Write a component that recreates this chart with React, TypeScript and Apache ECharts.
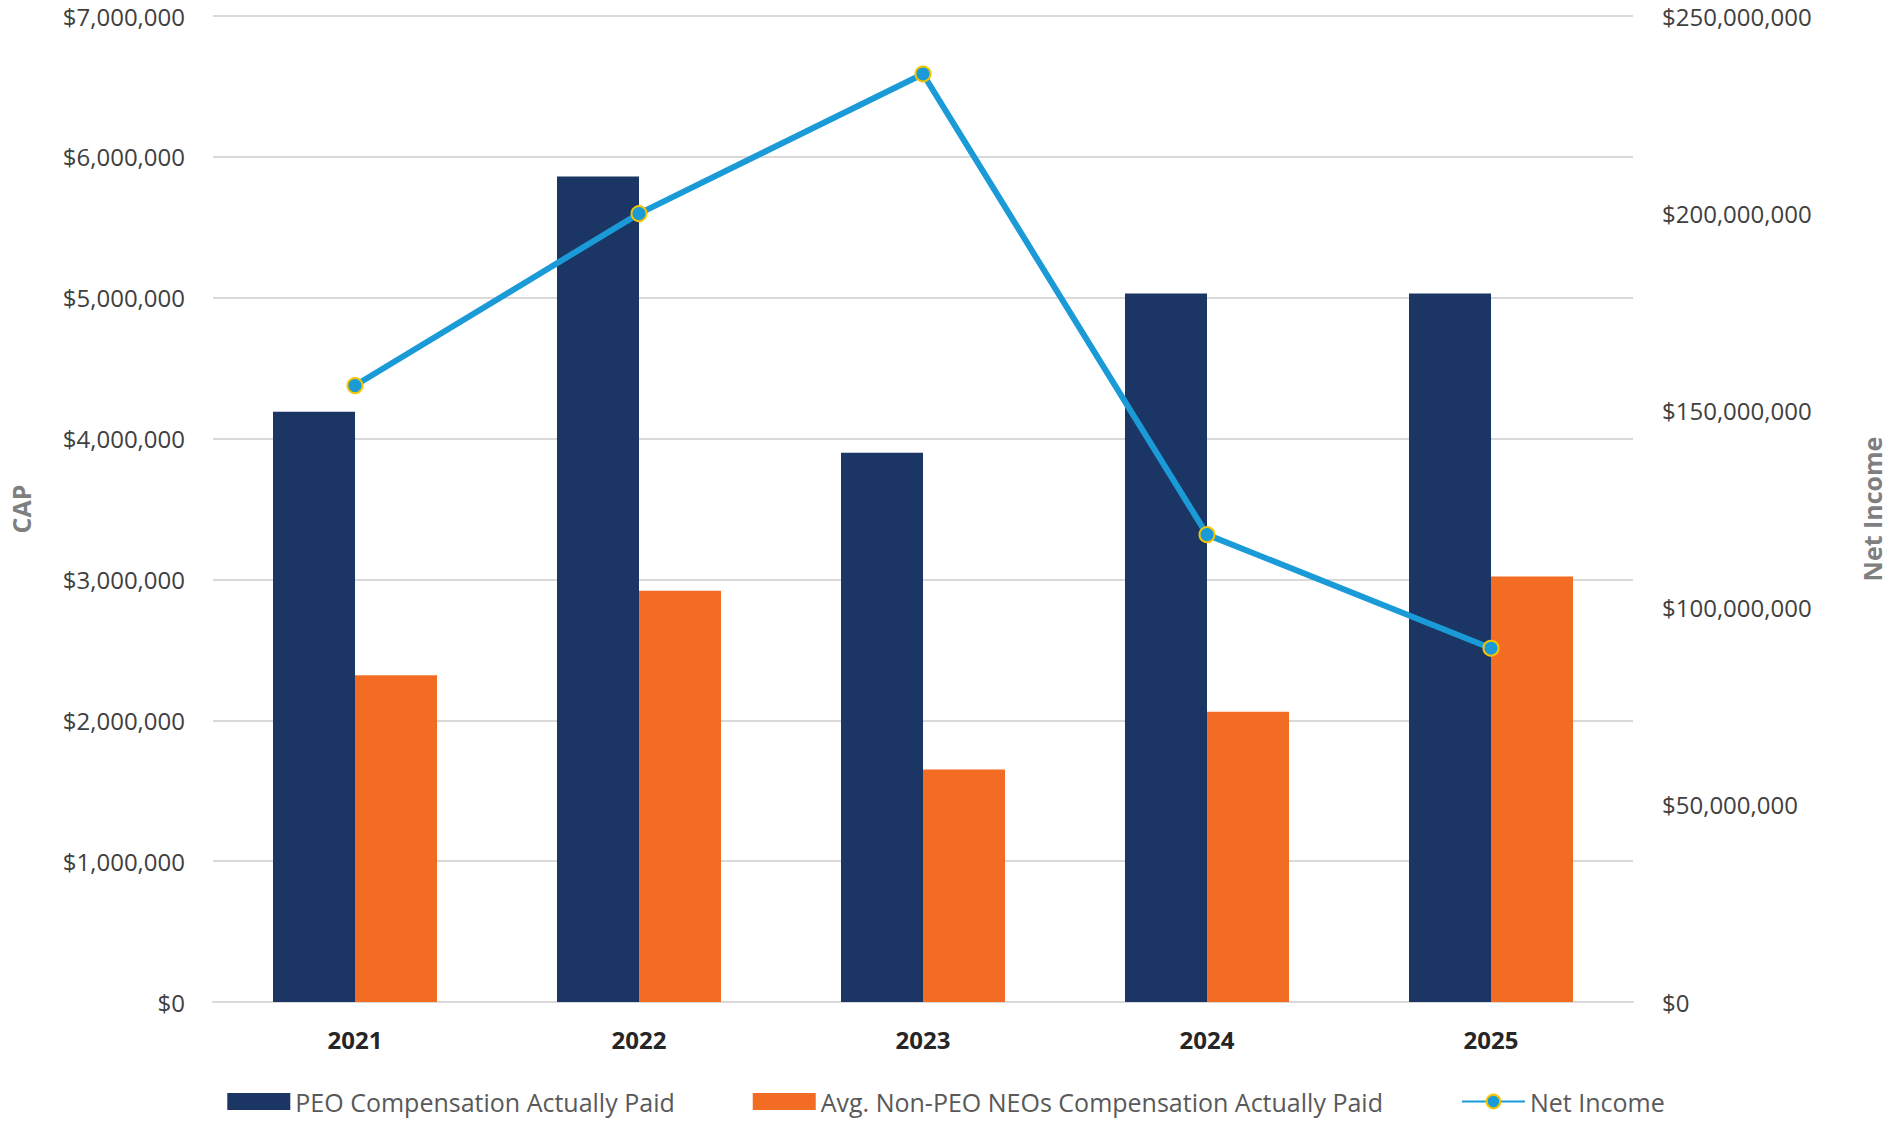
import { useEffect, useRef } from "react";
import * as echarts from "echarts";

const years = ["2021", "2022", "2023", "2024", "2025"];
const peoCap = [4190000, 5860000, 3900000, 5030000, 5030000];
const neoCap = [2320000, 2920000, 1650000, 2060000, 3020000];
const netIncome = [156300000, 199900000, 235300000, 118500000, 89700000];

const money = (v: number) => "$" + new Intl.NumberFormat("en-US").format(v);

export default function App() {
  const chartRef = useRef<HTMLDivElement | null>(null);

  useEffect(() => {
    if (!chartRef.current) return;
    document.body.style.margin = "0";
    const chart = echarts.init(chartRef.current, null, { renderer: "svg" });
    const font = "'Open Sans', sans-serif";

    chart.setOption({
      animation: false,
      textStyle: { fontFamily: font },
      grid: { left: 210, right: 239, top: 16, bottom: 119 },
      legend: {
        bottom: 2,
        left: "center",
        itemGap: 78,
        itemWidth: 63,
        itemHeight: 17,
        textStyle: { color: "#595959", fontSize: 25, fontFamily: font },
        data: [
          { name: "PEO Compensation Actually Paid", icon: "rect" },
          { name: "Avg. Non-PEO NEOs Compensation Actually Paid", icon: "rect" },
          "Net Income",
        ],
      },
      xAxis: {
        type: "category",
        data: years,
        axisLine: { lineStyle: { color: "#d9d9d9", width: 2 } },
        axisTick: { show: false },
        axisLabel: { color: "#262626", fontWeight: "bold", fontSize: 24, margin: 25 },
      },
      yAxis: [
        {
          type: "value",
          min: 0,
          max: 7000000,
          interval: 1000000,
          name: "CAP",
          nameLocation: "middle",
          nameGap: 180,
          nameTextStyle: { color: "#7f7f7f", fontWeight: "bold", fontSize: 25 },
          axisLabel: { color: "#404040", fontSize: 24, margin: 28, formatter: money },
          splitLine: { lineStyle: { color: "#d9d9d9", width: 2 } },
        },
        {
          type: "value",
          min: 0,
          max: 250000000,
          interval: 50000000,
          name: "Net Income",
          nameLocation: "middle",
          nameGap: 226,
          nameRotate: 90,
          nameTextStyle: { color: "#7f7f7f", fontWeight: "bold", fontSize: 25 },
          axisLabel: { color: "#404040", fontSize: 24, margin: 29, formatter: money },
          splitLine: { show: false },
        },
      ],
      series: [
        {
          name: "PEO Compensation Actually Paid",
          type: "bar",
          data: peoCap,
          barWidth: 82,
          barGap: "0%",
          itemStyle: { color: "#1b3564" },
        },
        {
          name: "Avg. Non-PEO NEOs Compensation Actually Paid",
          type: "bar",
          data: neoCap,
          barWidth: 82,
          barGap: "0%",
          itemStyle: { color: "#f26c23" },
        },
        {
          name: "Net Income",
          type: "line",
          yAxisIndex: 1,
          data: netIncome,
          symbol: "circle",
          symbolSize: 15,
          lineStyle: { color: "#1a9bd7", width: 6 },
          itemStyle: { color: "#1a9bd7", borderColor: "#f5c400", borderWidth: 2 },
        },
      ],
    });

    return () => chart.dispose();
  }, []);

  return <div ref={chartRef} style={{ width: 1892, height: 1121 }} />;
}
